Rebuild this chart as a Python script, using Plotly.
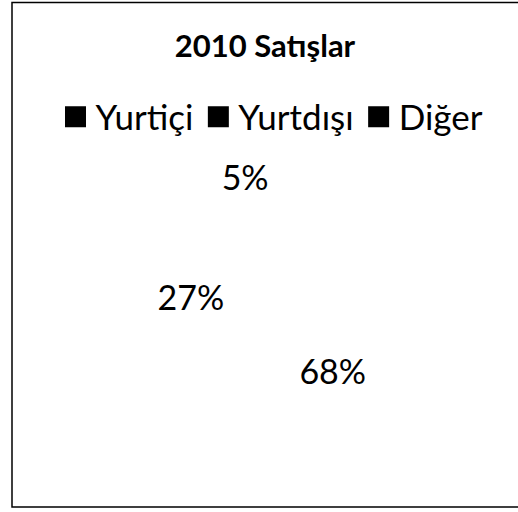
import plotly.graph_objects as go

# 2010 sales split
categories = ["Yurtiçi", "Yurtdışı", "Diğer"]
shares = [68, 27, 5]
title_text = "2010 Satışlar"

W, H = 518, 512
FONT = "Lato"

fig = go.Figure()

# pie with blank slices: only the percentage labels show;
# the thin last slice is pulled out a little so its label sits clear
fig.add_trace(go.Pie(
    labels=categories,
    values=shares,
    sort=False,
    direction="clockwise",
    rotation=0,
    pull=[0, 0, 0.175],
    textinfo="percent",
    textposition="inside",
    insidetextorientation="horizontal",
    textfont=dict(family=FONT, size=34, color="black"),
    marker=dict(colors=["white"] * len(categories), line=dict(width=0)),
    domain=dict(x=[93.5 / W, 445.5 / W], y=[(H - 506) / H, (H - 154) / H]),
    showlegend=False,
    hoverinfo="label+percent",
))

# legend keys drawn as solid black squares
for name in categories:
    fig.add_trace(go.Scatter(
        x=[None], y=[None], mode="markers", name=name,
        marker=dict(symbol="square", size=16, color="black",
                    line=dict(width=5, color="black")),
    ))

# frame open on the right-hand side
lx, rx = 12 / W, 1.0
ty, by = 1 - 2.5 / H, 1 - 507 / H
frame = f"M {rx} {ty} L {lx} {ty} L {lx} {by} L {rx} {by}"

fig.update_layout(
    width=W, height=H,
    margin=dict(l=0, r=0, t=0, b=0),
    paper_bgcolor="white", plot_bgcolor="white",
    title=dict(text="<b>" + title_text + "</b>", x=265 / W, xanchor="center",
               y=1 - 46 / H, yanchor="middle",
               font=dict(family=FONT, size=31, color="black")),
    legend=dict(orientation="h", x=272 / W, xanchor="center",
                y=1 - 117 / H, yanchor="middle",
                font=dict(family=FONT, size=35, color="black"),
                bgcolor="rgba(0,0,0,0)", itemclick=False),
    xaxis=dict(visible=False), yaxis=dict(visible=False),
    uniformtext=dict(mode="show", minsize=34),
    shapes=[dict(type="path", xref="paper", yref="paper", path=frame,
                 line=dict(color="black", width=1.5))],
)

fig.write_html("out.html")
